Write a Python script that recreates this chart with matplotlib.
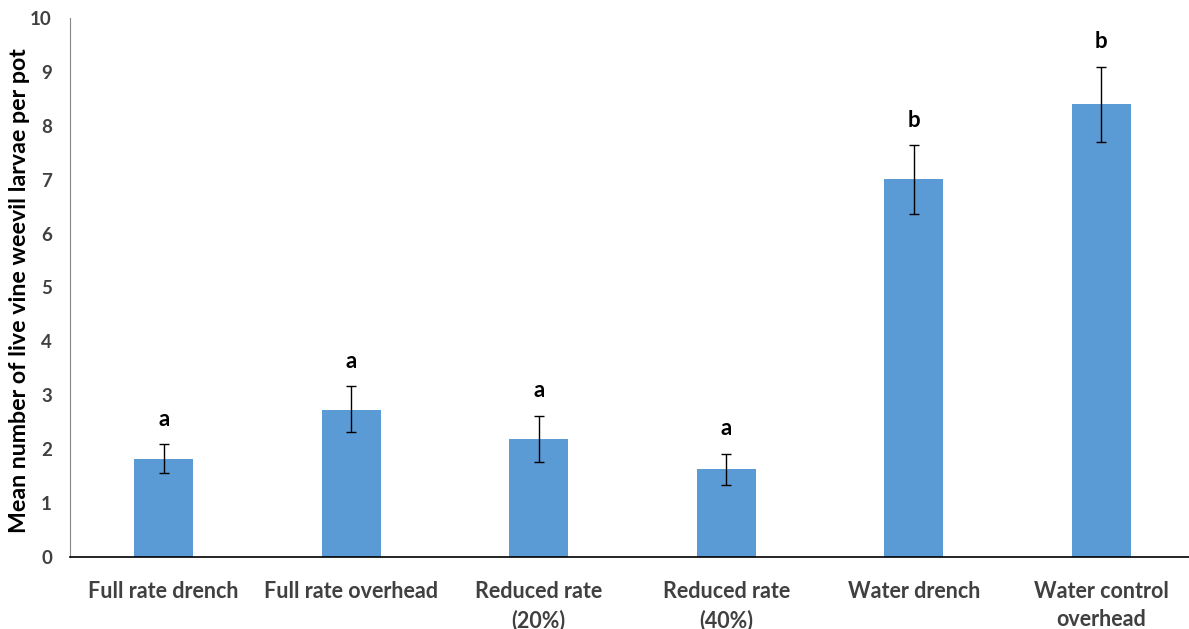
import numpy as np
import matplotlib.pyplot as plt

treatments = ['Full rate drench', 'Full rate overhead', 'Reduced rate\n(20%)',
              'Reduced rate\n(40%)', 'Water drench', 'Water control\noverhead']
means = [1.82, 2.73, 2.19, 1.63, 7.01, 8.40]
err_upper = [0.27, 0.44, 0.43, 0.29, 0.63, 0.70]
err_lower = [0.26, 0.42, 0.43, 0.30, 0.64, 0.70]
letters = ['a', 'a', 'a', 'a', 'b', 'b']

plt.rcParams['font.family'] = ['Lato', 'DejaVu Sans']
plt.rcParams['font.weight'] = 'bold'

fig = plt.figure(figsize=(11.89, 6.29), dpi=100)
ax = fig.add_axes([70 / 1189, 1 - 557 / 629, 1125 / 1189, 539 / 629])

x = np.arange(len(treatments))
ax.bar(x, means, width=0.315, color='#5B9BD5', zorder=2)
ax.errorbar(x, means, yerr=[err_lower, err_upper], fmt='none', ecolor='black',
            elinewidth=1, capsize=3.6, capthick=1, zorder=3)

# significance letters above the error bars
for xi, m, e, lab in zip(x, means, err_upper, letters):
    ax.text(xi, m + e + 0.27, lab, ha='center', va='bottom',
            fontsize=16, fontweight='bold')

ax.set_xlim(-0.5, 5.5)
ax.set_ylim(0, 10)
ax.set_yticks(range(0, 11))
ax.set_xticks(x)
ax.set_xticklabels(treatments, fontsize=15.5, fontweight='bold', color='#404040',
                   linespacing=1.45)
ax.tick_params(axis='y', length=0, pad=13, labelsize=13.5, labelcolor='#404040')
ax.tick_params(axis='x', length=0, pad=17)
for lbl in ax.get_yticklabels():
    lbl.set_fontweight('bold')

ax.spines['top'].set_visible(False)
ax.spines['right'].set_visible(False)
ax.spines['left'].set_color('#868686')
ax.spines['bottom'].set_color('black')
ax.spines['bottom'].set_linewidth(1.2)

ax.set_ylabel('Mean number of live vine weevil larvae per pot', fontsize=16.7,
              fontweight='bold', va='center')
ax.yaxis.set_label_coords(-50 / 1125, 0.494)

fig.savefig('out.png', dpi=100)
